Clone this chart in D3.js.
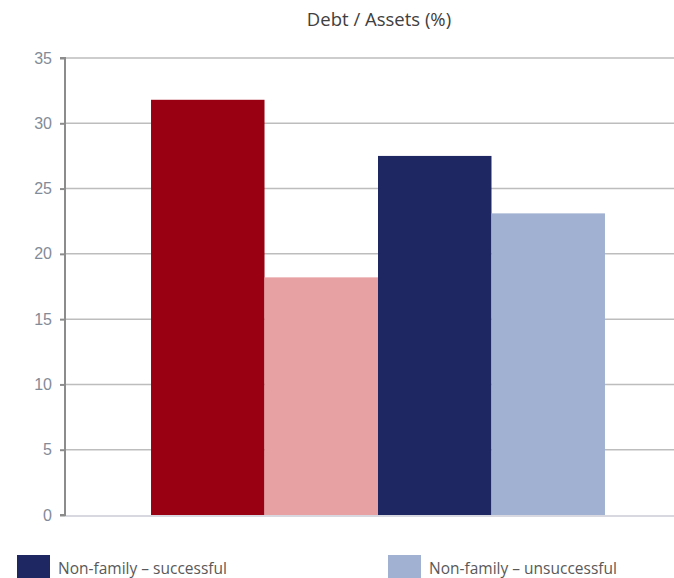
<!DOCTYPE html>
<html>
<head>
<meta charset="utf-8">
<script src="https://cdn.jsdelivr.net/npm/d3@7/dist/d3.min.js"></script>
<style>
  body { margin: 0; background: #fff; }
  svg { display: block; }
</style>
</head>
<body>
<div id="chart"></div>
<script>
// Debt / Assets (%) - grouped bars
const seriesNames = ['Family – successful', 'Family – unsuccessful', 'Non-family – successful', 'Non-family – unsuccessful'];
const seriesValues = [31.8, 18.2, 27.5, 23.1];
const seriesColors = ['#990012', '#e8a1a2', '#1f2762', '#a1b1d1'];
const yTicks = [0, 5, 10, 15, 20, 25, 30, 35];
const legendItems = [2, 3]; // only the non-family entries are shown

const W = 674, H = 578;
const margin = { top: 58, right: -17, bottom: 63, left: 65 };

const svg = d3.select('#chart').append('svg')
    .attr('width', W)
    .attr('height', H);

const x = d3.scaleBand()
    .domain(seriesNames)
    .range([margin.left, W - margin.right])
    .paddingInner(0)
    .paddingOuter(0.758);

const y = d3.scaleLinear()
    .domain([0, 35])
    .range([H - margin.bottom, margin.top]);

// grid lines
svg.append('g')
    .selectAll('line')
    .data(yTicks.filter(d => d > 0))
    .enter()
    .append('line')
    .attr('x1', margin.left)
    .attr('x2', W)
    .attr('y1', d => y(d))
    .attr('y2', d => y(d))
    .attr('stroke', '#bdbdbd')
    .attr('stroke-width', 1.5);

// bars
svg.append('g')
    .selectAll('rect')
    .data(seriesNames)
    .enter()
    .append('rect')
    .attr('x', d => x(d))
    .attr('y', (d, i) => y(seriesValues[i]))
    .attr('width', x.bandwidth())
    .attr('height', (d, i) => y(0) - y(seriesValues[i]))
    .attr('fill', (d, i) => seriesColors[i]);

// baseline
svg.append('line')
    .attr('x1', margin.left)
    .attr('x2', W)
    .attr('y1', y(0) + 1)
    .attr('y2', y(0) + 1)
    .attr('stroke', '#d8d8e0')
    .attr('stroke-width', 2);

// y axis
const yAxis = svg.append('g')
    .attr('transform', `translate(${margin.left},0)`)
    .call(d3.axisLeft(y).tickValues(yTicks).tickSize(5).tickPadding(8));

yAxis.select('.domain')
    .attr('stroke', '#8c8c8c')
    .attr('stroke-width', 2)
    .attr('d', `M-5,${y(35)}H0V${y(0)}H-5`);
yAxis.selectAll('.tick line')
    .attr('stroke', '#8c8c8c')
    .attr('stroke-width', 2);
yAxis.selectAll('.tick text')
    .attr('fill', '#838b98')
    .style('font-family', 'Liberation Sans, Arial, sans-serif')
    .style('font-size', '16px');

// title
svg.append('text')
    .attr('x', 379)
    .attr('y', 26)
    .attr('text-anchor', 'middle')
    .attr('fill', '#404040')
    .style('font-family', 'Open Sans, sans-serif')
    .style('font-size', '18.5px')
    .text('Debt / Assets (%)');

// legend
const legendX = [17, 388];
const legend = svg.append('g')
    .selectAll('g')
    .data(legendItems)
    .enter()
    .append('g')
    .attr('transform', (d, i) => `translate(${legendX[i]},555)`);

legend.append('rect')
    .attr('width', 33)
    .attr('height', 23)
    .attr('fill', d => seriesColors[d]);

legend.append('text')
    .attr('x', 41)
    .attr('y', 19)
    .attr('fill', '#595959')
    .style('font-family', 'Open Sans, sans-serif')
    .style('font-size', '15.5px')
    .text(d => seriesNames[d]);
</script>
</body>
</html>
